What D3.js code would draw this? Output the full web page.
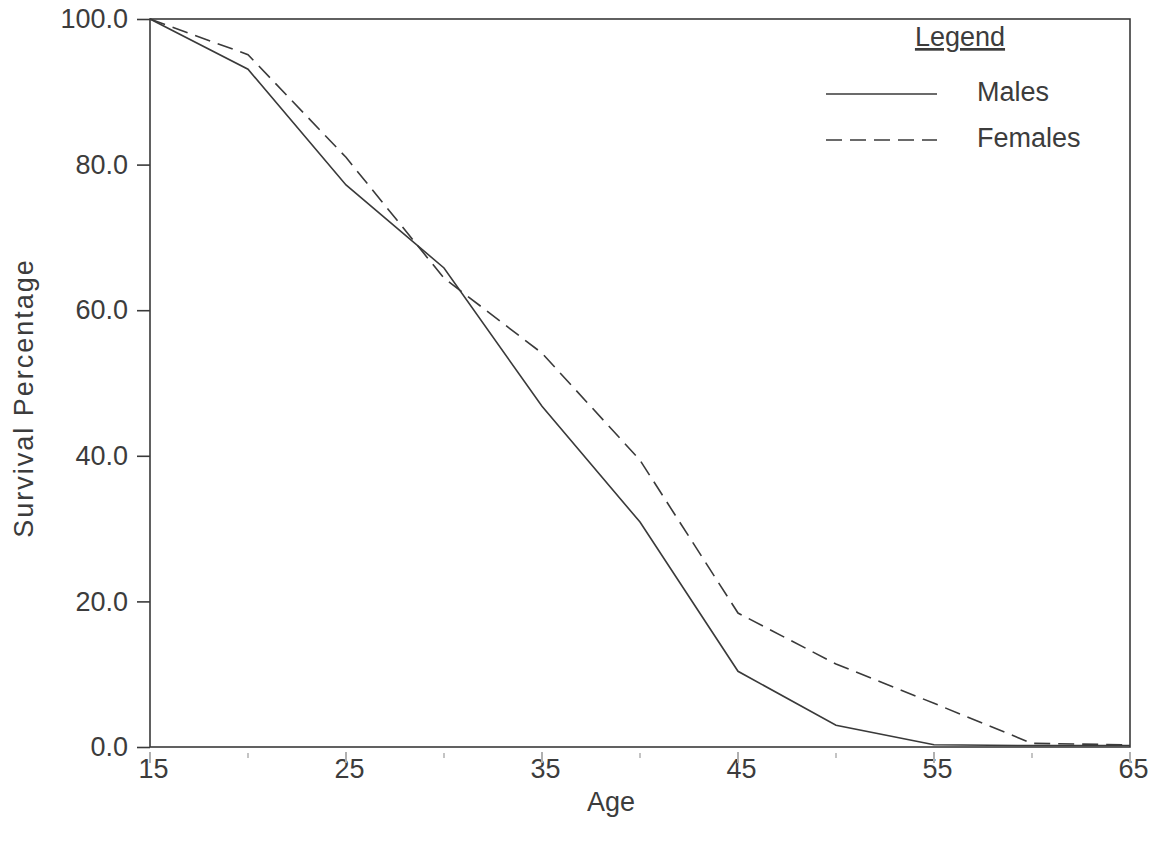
<!DOCTYPE html>
<html>
<head>
<meta charset="utf-8">
<script src="https://cdn.jsdelivr.net/npm/d3@7"></script>
<style>
  html, body { margin: 0; padding: 0; background: #fff; }
  svg { display: block; font-family: "Liberation Sans", Arial, sans-serif; }
</style>
</head>
<body>
<svg id="chart" width="1156" height="845"></svg>
<script>
// Survival percentage by age
const ages = [15, 20, 25, 30, 35, 40, 45, 50, 55, 60, 65];
const males = [100, 93.1, 77.2, 65.8, 46.8, 30.9, 10.4, 3.0, 0.3, 0.2, 0.2];
const females = [100, 95.1, 81.0, 64.4, 54.1, 39.4, 18.4, 11.4, 6.0, 0.5, 0.3];
const xTicks = [15, 25, 35, 45, 55, 65];
const xMinorTicks = [20, 30, 40, 50, 60];
const yTicks = [0, 20, 40, 60, 80, 100];
const seriesNames = ["Males", "Females"];

const svg = d3.select("#chart");
const ink = "#3a3a3a";
const textInk = "#3c3c3c";
const fontSize = 27;

const x = d3.scaleLinear().domain([15, 65]).range([150, 1130]);
const y = d3.scaleLinear().domain([0, 100]).range([747, 19]);

// Frame
svg.append("rect")
  .attr("x", x(15)).attr("y", y(100))
  .attr("width", x(65) - x(15)).attr("height", y(0) - y(100))
  .attr("fill", "none").attr("stroke", ink).attr("stroke-width", 1.6);

// Y axis
const yAxis = d3.axisLeft(y).tickValues(yTicks).tickSize(13).tickPadding(9)
  .tickFormat(d3.format(".1f"));
const gy = svg.append("g").attr("transform", `translate(${x(15)},0)`).call(yAxis);
gy.select(".domain").remove();
gy.selectAll("line").attr("stroke", ink).attr("stroke-width", 1.6);
gy.selectAll("text").attr("fill", textInk).attr("font-size", fontSize)
  .attr("font-family", "Liberation Sans, Arial, sans-serif");

// X axis: labels, with faint ticks hanging below the baseline
const xAxis = d3.axisBottom(x).tickValues(xTicks).tickSize(0).tickPadding(12)
  .tickFormat(d3.format("d"));
const gx = svg.append("g").attr("transform", `translate(0,${y(0)})`).call(xAxis);
gx.select(".domain").remove();
gx.selectAll("text").attr("fill", textInk).attr("font-size", fontSize)
  .attr("dx", 3)
  .attr("font-family", "Liberation Sans, Arial, sans-serif");

svg.append("g").selectAll("line").data(xTicks).join("line")
  .attr("x1", d => x(d)).attr("x2", d => x(d))
  .attr("y1", y(0) + 5).attr("y2", y(0) + 16)
  .attr("stroke", "#b0b0b0").attr("stroke-width", 2);
svg.append("g").selectAll("line").data(xMinorTicks).join("line")
  .attr("x1", d => x(d)).attr("x2", d => x(d))
  .attr("y1", y(0) + 6).attr("y2", y(0) + 11)
  .attr("stroke", "#b0b0b0").attr("stroke-width", 1.5);

// Axis titles
svg.append("text").attr("x", 611).attr("y", 811).attr("text-anchor", "middle")
  .attr("font-size", fontSize).attr("fill", textInk).text("Age");
svg.append("text").attr("transform", "translate(33,398) rotate(-90)")
  .attr("text-anchor", "middle").attr("font-size", fontSize).attr("fill", textInk)
  .attr("letter-spacing", 2)
  .text("Survival Percentage");

// Series lines
const line = d3.line().x((d, i) => x(ages[i])).y(d => y(d));
svg.append("path").datum(males).attr("d", line)
  .attr("fill", "none").attr("stroke", ink).attr("stroke-width", 1.6);
svg.append("path").datum(females).attr("d", line)
  .attr("fill", "none").attr("stroke", ink).attr("stroke-width", 1.6)
  .attr("stroke-dasharray", "16,8");

// Legend
const lg = svg.append("g");
lg.append("text").attr("x", 960).attr("y", 46).attr("text-anchor", "middle")
  .attr("font-size", fontSize).attr("fill", textInk)
  .attr("text-decoration", "underline").text("Legend");
const legendRows = [
  { name: seriesNames[0], dash: null, yy: 94 },
  { name: seriesNames[1], dash: "16,8", yy: 140 }
];
legendRows.forEach(r => {
  lg.append("line").attr("x1", 826).attr("x2", 937).attr("y1", r.yy).attr("y2", r.yy)
    .attr("stroke", ink).attr("stroke-width", 1.4)
    .attr("stroke-dasharray", r.dash);
  lg.append("text").attr("x", 977).attr("y", r.yy + 7)
    .attr("font-size", fontSize).attr("fill", textInk).text(r.name);
});
</script>
</body>
</html>
